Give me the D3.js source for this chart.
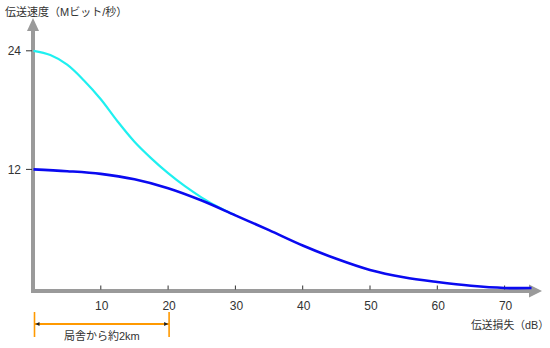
<!DOCTYPE html>
<html><head><meta charset="utf-8">
<script src="https://cdn.jsdelivr.net/npm/d3@7"></script>
<style>
html,body{margin:0;padding:0;background:#fff;}
svg{display:block;font-family:"Liberation Sans","Noto Sans CJK JP",sans-serif;}
</style></head>
<body><svg id="c" width="550" height="348"></svg>
<script>
// ---- data ----
const xTicks = [10, 20, 30, 40, 50, 60, 70];
const yTicks = [12, 24];
const fastLoss = [0, 2.5, 5, 7.5, 10, 12.5, 15, 17.5, 20, 22.5, 25, 27.5, 30];
const fastSeries = [24, 23.57, 22.6, 21.0, 19.1, 16.85, 14.8, 13.12, 11.62, 10.3, 9.15, 8.17, 7.35];   // cyan
const baseLoss = [0, 5, 10, 15, 20, 25, 30, 35, 40, 45, 50, 55, 60, 65, 70, 74];
const baseSeries = [12, 11.82, 11.55, 11.0, 10.1, 8.85, 7.35, 5.85, 4.3, 2.95, 1.82, 1.08, 0.6, 0.22, 0, 0];  // blue
const yTitle = "伝送速度（Mビット/秒）";
const xTitle = "伝送損失（dB）";
const rangeLabel = "局舎から約2km";
const rangeKm = [0, 20];

// ---- layout ----
const svg = d3.select("#c");
const x = d3.scaleLinear().domain([0, 70]).range([33.5, 504.6]);
const y = d3.scaleLinear().domain([0, 24]).range([288, 50.8]);
const axisCol = "#9a9a9a";

// axes lines
svg.append("line").attr("x1", 33).attr("x2", 33).attr("y1", 293).attr("y2", 29)
  .attr("stroke", axisCol).attr("stroke-width", 4);
svg.append("path").attr("d", "M27,31 L33,18 L39,31 Z").attr("fill", axisCol);
svg.append("line").attr("x1", 31).attr("x2", 531).attr("y1", 291).attr("y2", 291)
  .attr("stroke", axisCol).attr("stroke-width", 4);
svg.append("path").attr("d", "M529,284.5 L542,291 L529,297.5 Z").attr("fill", axisCol);

// ticks
svg.selectAll(".xt").data(xTicks).join("line")
  .attr("x1", d => x(d)).attr("x2", d => x(d)).attr("y1", 285.5).attr("y2", 289.5)
  .attr("stroke", "#333").attr("stroke-width", 1);
svg.selectAll(".xl").data(xTicks).join("text")
  .attr("x", d => x(d) + 1).attr("y", 310).attr("text-anchor", "middle")
  .attr("font-size", 12).attr("fill", "#333").text(d => d);
svg.selectAll(".yt").data(yTicks).join("line")
  .attr("x1", 26).attr("x2", 32).attr("y1", d => y(d)).attr("y2", d => y(d))
  .attr("stroke", "#333").attr("stroke-width", 1);
svg.selectAll(".yl").data(yTicks).join("text")
  .attr("x", 21).attr("y", d => y(d) + 4.5).attr("text-anchor", "end")
  .attr("font-size", 12).attr("fill", "#333").text(d => d);

// titles
svg.append("text").attr("x", 5).attr("y", 16).attr("font-size", 11).attr("fill", "#333").text(yTitle);
svg.append("text").attr("x", 549).attr("y", 329).attr("text-anchor", "end")
  .attr("font-size", 10.8).attr("fill", "#333").text(xTitle);

// curves
const line = d3.line().x(d => x(d[0])).y(d => y(d[1])).curve(d3.curveCatmullRom.alpha(0.5));
svg.append("path").datum(fastSeries.map((v, i) => [fastLoss[i], v]))
  .attr("d", line).attr("fill", "none").attr("stroke", "#1ff0f0").attr("stroke-width", 2.2);
svg.append("path").datum(baseSeries.map((v, i) => [baseLoss[i], v]))
  .attr("d", line).attr("fill", "none").attr("stroke", "#0a0af0").attr("stroke-width", 2.6);

// range bracket
const orange = "#ff9900";
rangeKm.forEach(k => {
  svg.append("line").attr("x1", x(k) + 1).attr("x2", x(k) + 1).attr("y1", 312).attr("y2", 337)
    .attr("stroke", orange).attr("stroke-width", 1.6);
});
svg.append("line").attr("x1", x(rangeKm[0]) + 1).attr("x2", x(rangeKm[1]) + 1).attr("y1", 324).attr("y2", 324)
  .attr("stroke", orange).attr("stroke-width", 2);
const xa = x(rangeKm[0]) + 2, xb = x(rangeKm[1]);
svg.append("path").attr("d", `M${xa},324 L${xa + 4},322 L${xa + 4},326 Z`).attr("fill", "#222");
svg.append("path").attr("d", `M${xb},324 L${xb - 4},322 L${xb - 4},326 Z`).attr("fill", "#222");
svg.append("text").attr("x", (x(rangeKm[0]) + x(rangeKm[1])) / 2 + 1).attr("y", 339.5)
  .attr("text-anchor", "middle").attr("font-size", 11).attr("fill", "#333").text(rangeLabel);
</script></body></html>
